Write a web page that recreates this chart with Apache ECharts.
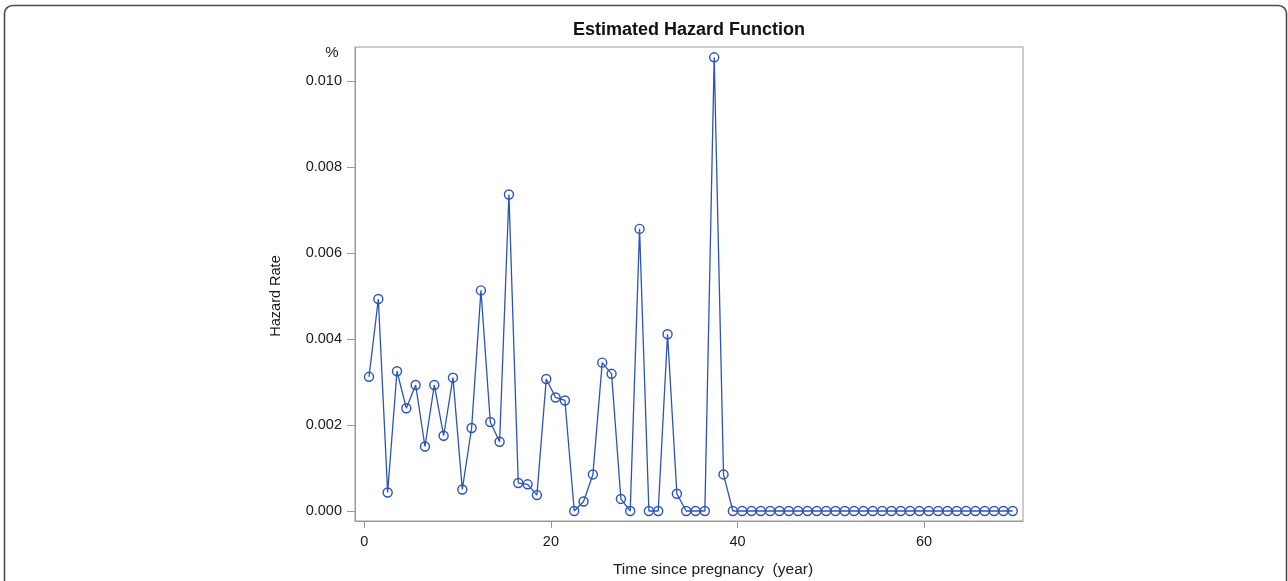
<!DOCTYPE html>
<html>
<head>
<meta charset="utf-8">
<script src="https://cdn.jsdelivr.net/npm/echarts@6/dist/echarts.min.js"></script>
<style>
html,body{margin:0;padding:0;background:#fff;}
#chart{width:1288px;height:581px;}
</style>
</head>
<body>
<div id="chart"></div>
<script>
var times = [0.5,1.5,2.5,3.5,4.5,5.5,6.5,7.5,8.5,9.5,10.5,11.5,12.5,13.5,14.5,15.5,16.5,17.5,18.5,19.5,
  20.5,21.5,22.5,23.5,24.5,25.5,26.5,27.5,28.5,29.5,30.5,31.5,32.5,33.5,34.5,35.5,36.5,37.5,38.5,39.5,
  40.5,41.5,42.5,43.5,44.5,45.5,46.5,47.5,48.5,49.5,50.5,51.5,52.5,53.5,54.5,55.5,56.5,57.5,58.5,59.5,
  60.5,61.5,62.5,63.5,64.5,65.5,66.5,67.5,68.5,69.5];
var hazard = [0.00312,0.00493,0.00043,0.00325,0.00239,0.00293,0.00150,0.00293,0.00175,0.00310,
  0.00050,0.00193,0.00513,0.00207,0.00161,0.00736,0.00065,0.00062,0.00037,0.00307,
  0.00264,0.00257,0,0.00022,0.00085,0.00345,0.00319,0.00028,0,0.00656,
  0,0,0.00411,0.00040,0,0,0,0.01055,0.00085,0,
  0,0,0,0,0,0,0,0,0,0,
  0,0,0,0,0,0,0,0,0,0,
  0,0,0,0,0,0,0,0,0,0];
var xTicks = [0,20,40,60];
var yTicks = [0,0.002,0.004,0.006,0.008,0.010];
var titleText = 'Estimated Hazard Function';
var xName = 'Time since pregnancy  (year)';
var yName = 'Hazard Rate';
var unitText = '%';

var lineColor = '#2a53bb';
var axisGray = '#9a9a9a';
var textColor = '#1a1a1a';
var fontFam = '"Liberation Sans", Arial, sans-serif';

var data = times.map(function(t,i){return [t, hazard[i]];});

var chart = echarts.init(document.getElementById('chart'), null, {renderer:'canvas'});
chart.setOption({
  animation:false,
  backgroundColor:'#fff',
  grid:{left:355, top:47, width:668, height:474, show:true, borderColor:axisGray, borderWidth:1, containLabel:false},
  xAxis:{
    type:'value', min:-1, max:70.6,
    axisLine:{show:true, onZero:false, lineStyle:{color:axisGray, width:1}},
    axisTick:{show:true, inside:false, customValues:xTicks, length:7, lineStyle:{color:axisGray, width:1}},
    axisLabel:{customValues:xTicks, margin:13, fontSize:14.5, color:textColor, fontFamily:fontFam},
    splitLine:{show:false}
  },
  yAxis:{
    type:'value', min:-0.000233, max:0.01079,
    axisLine:{show:true, onZero:false, lineStyle:{color:axisGray, width:1}},
    axisTick:{show:true, inside:false, customValues:yTicks, length:8, lineStyle:{color:axisGray, width:1}},
    axisLabel:{customValues:yTicks, margin:13, fontSize:14.5, color:textColor, fontFamily:fontFam,
      formatter:function(v){return v.toFixed(3);}},
    splitLine:{show:false}
  },
  graphic:[
    {type:'rect', shape:{x:4.5, y:5.5, width:1282, height:640, r:8}, style:{fill:'none', stroke:'#4a4a4a', lineWidth:1.6}, silent:true},
    {type:'text', x:689, y:30, style:{text:titleText, fontSize:18, fontWeight:'bold', fill:'#111', fontFamily:fontFam, textAlign:'center', textVerticalAlign:'middle'}},
    {type:'text', x:713, y:570, style:{text:xName, fontSize:15.5, fill:textColor, fontFamily:fontFam, textAlign:'center', textVerticalAlign:'middle'}},
    {type:'text', x:276, y:296, rotation:Math.PI/2, style:{text:yName, fontSize:14.5, fill:textColor, fontFamily:fontFam, textAlign:'center', textVerticalAlign:'middle'}},
    {type:'text', x:332, y:53, style:{text:unitText, fontSize:15, fill:textColor, fontFamily:fontFam, textAlign:'center', textVerticalAlign:'middle'}}
  ],
  series:[{
    type:'line',
    data:data,
    symbol:'circle',
    symbolSize:9,
    showAllSymbol:true,
    lineStyle:{color:lineColor, width:1.3},
    itemStyle:{color:'rgba(255,255,255,0)', borderColor:lineColor, borderWidth:1.4},
    z:3
  }]
});
</script>
</body>
</html>
